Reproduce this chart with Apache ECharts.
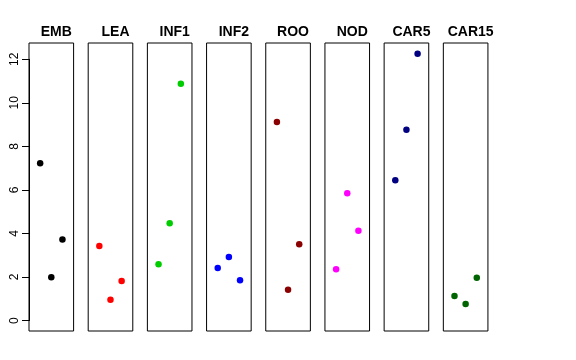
<!DOCTYPE html>
<html>
<head>
<meta charset="utf-8">
<script src="https://cdn.jsdelivr.net/npm/echarts@6/dist/echarts.min.js"></script>
<style>html,body{margin:0;padding:0;background:#fff}#c{width:576px;height:360px}</style>
</head>
<body>
<div id="c"></div>
<script>
var categories = ['EMB', 'LEA', 'INF1', 'INF2', 'ROO', 'NOD', 'CAR5', 'CAR15'];
var xPositions = [1, 2, 3];
var EMB = [7.23, 1.99, 3.72];
var LEA = [3.43, 0.96, 1.82];
var INF1 = [2.59, 4.47, 10.88];
var INF2 = [2.41, 2.92, 1.85];
var ROO = [9.12, 1.41, 3.51];
var NOD = [2.36, 5.85, 4.12];
var CAR5 = [6.45, 8.76, 12.26];
var CAR15 = [1.13, 0.76, 1.97];
var seriesValues = [EMB, LEA, INF1, INF2, ROO, NOD, CAR5, CAR15];
var colors = ['#000000', '#FF0000', '#00CD00', '#0000FF', '#8B0000', '#FF00FF', '#000080', '#006400'];
var yTickLabels = ['0', '2', '4', '6', '8', '10', '12'];

var FONT = 'Liberation Sans, Arial, Helvetica, sans-serif';
var yMin = -0.48, yMax = 12.75;
var panelLeft = 29, pitch = 59.19, panelW = 44.6, panelTop = 43, panelH = 288;

var grids = [], xAxes = [], yAxes = [], series = [], titles = [];
categories.forEach(function (cat, i) {
  var left = panelLeft + i * pitch;
  grids.push({ left: left, top: panelTop, width: panelW, height: panelH, show: true,
    borderColor: '#000', borderWidth: 1, backgroundColor: 'transparent' });
  xAxes.push({ gridIndex: i, type: 'value', min: 0, max: 4, show: false });
  yAxes.push({ gridIndex: i, type: 'value', min: yMin, max: yMax, show: false });
  series.push({
    type: 'scatter', xAxisIndex: i, yAxisIndex: i, symbol: 'circle', symbolSize: 6.5,
    itemStyle: { color: colors[i], opacity: 1 }, silent: true,
    data: seriesValues[i].map(function (v, k) { return [xPositions[k], v]; })
  });
  titles.push({ text: cat, left: left + panelW / 2, top: 20, textAlign: 'center',
    textStyle: { fontFamily: FONT, fontSize: 14, fontWeight: 'bold', color: '#000' } });
});

// y axis drawn from 0 to 12 only (R style)
var tickMin = Number(yTickLabels[0]), tickMax = Number(yTickLabels[yTickLabels.length - 1]);
var pxPerUnit = panelH / (yMax - yMin);
grids.push({ left: panelLeft, top: panelTop + (yMax - tickMax) * pxPerUnit, width: panelW,
  height: (tickMax - tickMin) * pxPerUnit, show: false });
xAxes.push({ gridIndex: 8, type: 'value', min: 0, max: 4, show: false });
yAxes.push({ gridIndex: 8, type: 'value', min: tickMin, max: tickMax, interval: 2,
  axisLine: { show: true, lineStyle: { color: '#000', width: 1 } },
  axisTick: { show: true, length: 7, lineStyle: { color: '#000', width: 1 } },
  splitLine: { show: false },
  axisLabel: { show: true, rotate: 90, align: 'center', verticalAlign: 'bottom', margin: 8,
    fontFamily: FONT, fontSize: 12, color: '#000' } });

var chart = echarts.init(document.getElementById('c'), null, { renderer: 'canvas' });
chart.setOption({
  animation: false,
  backgroundColor: '#fff',
  title: titles,
  grid: grids,
  xAxis: xAxes,
  yAxis: yAxes,
  series: series
});
</script>
</body>
</html>
